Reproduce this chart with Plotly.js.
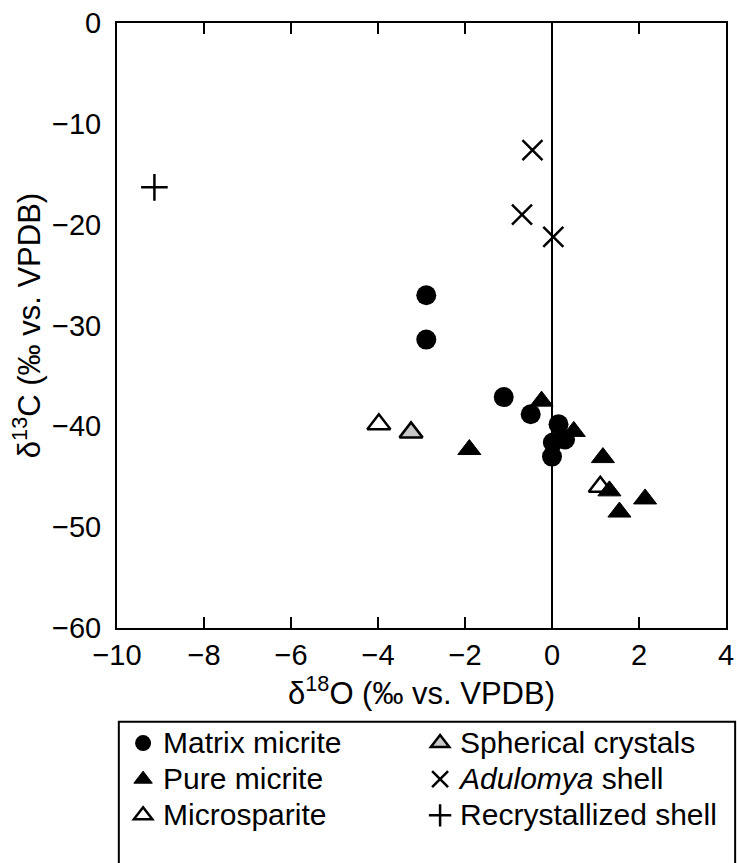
<!DOCTYPE html>
<html>
<head>
<meta charset="utf-8">
<script src="https://cdn.plot.ly/plotly-3.0.1.min.js"></script>
<style>html,body{margin:0;padding:0;background:#fff;}#chart{width:737px;height:863px;}</style>
</head>
<body>
<div id="chart"></div>
<script>
// Data
var matrixX = [-2.89, -2.89, -1.11, -0.49, 0.15, 0.30, 0.02, 0.00];
var matrixY = [-27.0, -31.4, -37.1, -38.8, -39.8, -41.3, -41.6, -43.0];

var pureX = [-0.24, 0.50, -1.90, 1.17, 1.32, 1.55, 2.14];
var pureY = [-37.5, -40.5, -42.3, -43.1, -46.4, -48.5, -47.2];

var microX = [-3.98, 1.11];
var microY = [-39.8, -46.0];

var sphericalX = [-3.24];
var sphericalY = [-40.6];

var adulomyaX = [-0.45, -0.69, 0.03];
var adulomyaY = [-12.6, -19.0, -21.2];

var recrystX = [-9.14];
var recrystY = [-16.3];

var seriesNames = ['Matrix micrite', 'Spherical crystals', 'Pure micrite',
                   '<i>Adulomya</i> shell', 'Microsparite', 'Recrystallized shell'];

var xTicks = [-10, -8, -6, -4, -2, 0, 2, 4];
var yTicks = [-60, -50, -40, -30, -20, -10, 0];

var font = 'Liberation Sans, Arial, sans-serif';
function lg(s) { return '<span style="font-size:30px">' + s + '</span>'; }

var traces = [
  {name: lg(seriesNames[4]), x: microX, y: microY, legendrank: 5,
   marker: {symbol: 'triangle-up', size: 20, color: '#ffffff', line: {color: '#000', width: 2.5}}},
  {name: lg(seriesNames[1]), x: sphericalX, y: sphericalY, legendrank: 2,
   marker: {symbol: 'triangle-up', size: 20, color: '#c8c8c8', line: {color: '#000', width: 2.5}}},
  {name: lg(seriesNames[2]), x: pureX, y: pureY, legendrank: 3,
   marker: {symbol: 'triangle-up', size: 20, color: '#000', line: {color: '#000', width: 1}}},
  {name: lg(seriesNames[0]), x: matrixX, y: matrixY, legendrank: 1,
   marker: {symbol: 'circle', size: 20, color: '#000', line: {width: 0}}},
  {name: lg(seriesNames[3]), x: adulomyaX, y: adulomyaY, legendrank: 4,
   marker: {symbol: 'x-thin', size: 20, color: '#000', line: {color: '#000', width: 2.5}}},
  {name: lg(seriesNames[5]), x: recrystX, y: recrystY, legendrank: 6,
   marker: {symbol: 'cross-thin', size: 19, color: '#000', line: {color: '#000', width: 2.5}}}
].map(function (t) { t.type = 'scatter'; t.mode = 'markers'; t.cliponaxis = false; return t; });

var layout = {
  width: 737, height: 863,
  margin: {l: 117, r: 11, t: 23, b: 235},
  paper_bgcolor: '#fff', plot_bgcolor: '#fff',
  font: {family: font, size: 29, color: '#000'},
  showlegend: true,
  xaxis: {
    range: [-10, 4], tickvals: xTicks, ticks: 'inside', ticklen: 11, tickwidth: 2, tickcolor: '#000',
    showline: true, linewidth: 2, linecolor: '#000', mirror: 'ticks',
    showgrid: false, zeroline: true, zerolinecolor: '#000', zerolinewidth: 2,
    tickfont: {size: 29}, ticklabelstandoff: 0,
    title: {text: 'δ<sup>18</sup>O (‰ vs. VPDB)', font: {size: 31}, standoff: 0}
  },
  yaxis: {
    range: [-60, 0], tickvals: yTicks, ticks: '',
    showline: true, linewidth: 2, linecolor: '#000', mirror: true,
    showgrid: false, zeroline: false,
    tickfont: {size: 29}, ticklabelstandoff: 8,
    title: {text: 'δ<sup>13</sup>C (‰ vs. VPDB)', font: {size: 31}, standoff: 2}
  },
  legend: {
    orientation: 'h', x: 0.01, xanchor: 'left', y: -0.152, yanchor: 'top',
    bgcolor: 'rgba(0,0,0,0)', borderwidth: 0,
    entrywidth: 252, font: {size: 25.5}, itemsizing: 'trace', traceorder: 'normal'
  },
  shapes: [{
    type: 'rect', xref: 'paper', yref: 'paper',
    x0: 0.003, x1: 1.015, y0: -0.155, y1: -0.45,
    line: {color: '#000', width: 2}, fillcolor: 'rgba(0,0,0,0)'
  }]
};

Plotly.newPlot('chart', traces, layout, {displayModeBar: false, staticPlot: true});
</script>
</body>
</html>
